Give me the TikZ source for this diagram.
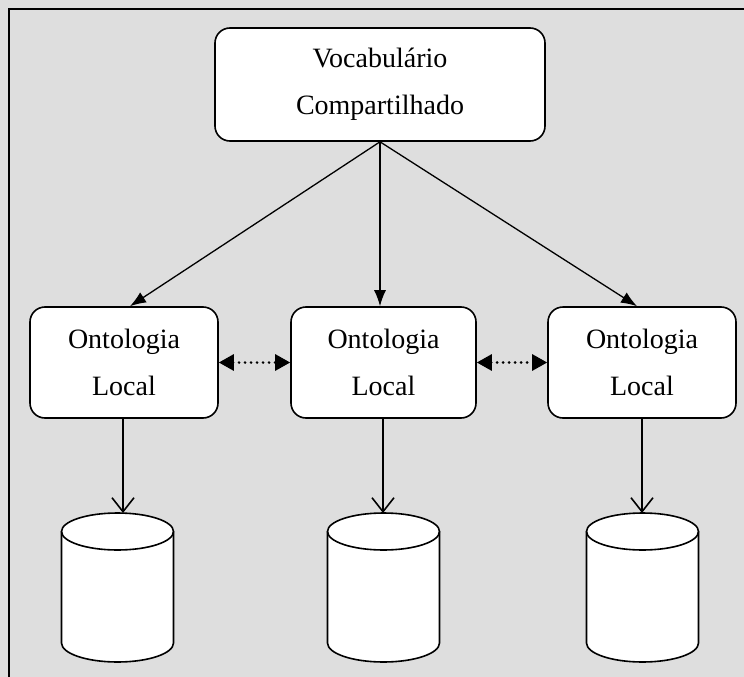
\documentclass[tikz,border=0pt]{standalone}
\usepackage{fontspec}
\setmainfont{Liberation Serif}
\usetikzlibrary{arrows.meta}
\tikzset{
  box/.style={draw, line width=1.6pt, fill=white, rounded corners=15pt, align=center,
    inner sep=0pt, font=\fontsize{28}{47}\selectfont},
  mainarrow/.style={line width=1.3pt, -{Latex[length=16pt,width=12pt]}},
  downarrow/.style={line width=1.6pt, -{Straight Barb[length=14pt,width=22pt,line width=1.6pt]}},
  dotarrow/.style={line width=2.8pt, line cap=round, dash pattern=on 0pt off 6pt,
    {Triangle[length=15pt,width=16pt,line cap=butt]}-{Triangle[length=15pt,width=16pt,line cap=butt]}},
  cyl/.style={draw, line width=1.6pt, fill=white},
}
\begin{document}
\begin{tikzpicture}[x=1pt,y=-1pt]
\useasboundingbox (0,0) rectangle (744,677);
\fill[black!13] (0,0) rectangle (744,677);
\draw[line width=1.6pt] (9,677) -- (9,9) -- (744,9);

\node[box, minimum width=330pt, minimum height=113pt] (V) at (380,84.5) {Vocabulário\\Compartilhado};
\node[box, minimum width=188pt, minimum height=111pt] (L) at (124,362.5) {Ontologia\\Local};
\node[box, minimum width=185pt, minimum height=111pt] (M) at (383.5,362.5) {Ontologia\\Local};
\node[box, minimum width=188pt, minimum height=111pt] (R) at (642,362.5) {Ontologia\\Local};

% cylinders
\foreach \cx/\nm in {117.5/c1, 383.5/c2, 642.5/c3}{
  \path[cyl] (\cx-56,531.5) -- (\cx-56,643) arc[start angle=180, end angle=0, x radius=56, y radius=19]
     -- (\cx+56,531.5) arc[start angle=0, end angle=-180, x radius=56, y radius=18.5] -- cycle;
  \draw[line width=1.6pt] (\cx-56,531.5) arc[start angle=180, end angle=0, x radius=56, y radius=18.5];
}

\coordinate (c1top) at (123,513);
\coordinate (c2top) at (383,513);
\coordinate (c3top) at (642,513);

\draw[mainarrow] (V.south) -- ([xshift=6pt]L.north);
\draw[mainarrow] (V.south) -- ([xshift=-3.5pt]M.north);
\draw[mainarrow] (V.south) -- ([xshift=-5pt]R.north);

\draw[downarrow] ([xshift=-1pt]L.south) -- (c1top);
\draw[downarrow] ([xshift=-0.5pt]M.south) -- (c2top);
\draw[downarrow] (R.south) -- (c3top);

\draw[dotarrow] (L.east) -- (M.west);
\draw[dotarrow] (M.east) -- (R.west);
\end{tikzpicture}
\end{document}
